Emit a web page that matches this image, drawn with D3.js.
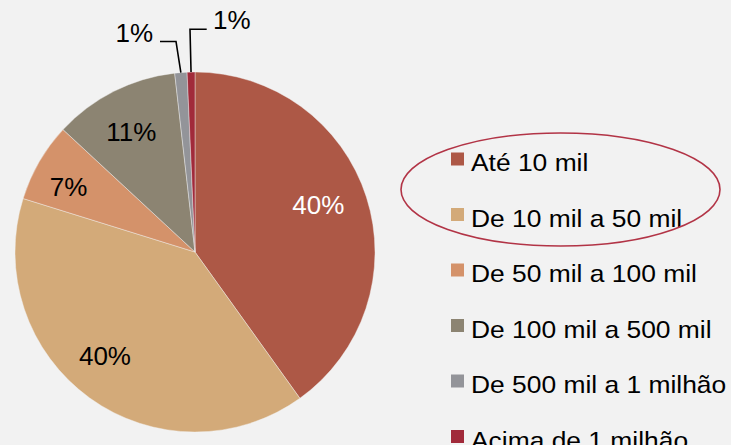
<!DOCTYPE html>
<html><head><meta charset="utf-8">
<script src="https://cdn.jsdelivr.net/npm/d3@7"></script>
<style>
html,body{margin:0;padding:0;background:#F2F2F2;}
svg{display:block;font-family:"Liberation Sans",Arial,sans-serif;}
</style></head>
<body><svg id="c" width="731" height="445"></svg>
<script>
const categories = ["Até 10 mil","De 10 mil a 50 mil","De 50 mil a 100 mil","De 100 mil a 500 mil","De 500 mil a 1 milhão","Acima de 1 milhão"];
const values = [40.1, 39.7, 7.1, 11.3, 1.1, 0.7];
const labels = ["40%","40%","7%","11%","1%","1%"];
const colors = ["#AD5846","#D3AA79","#D4926A","#8C8472","#939499","#A12A3A"];

const svg = d3.select("#c");
const cx = 195, cy = 252, R = 180;

const pie = d3.pie().sort(null).value(d => d);
const arcs = pie(values);
const arc = d3.arc().innerRadius(0).outerRadius(R);
const labelArc = d3.arc().innerRadius(R*0.76).outerRadius(R*0.76);
// small layout nudges for the inside labels (px)
const labelNudge = [[-7,-6],[-10,-7],[-8,3],[-2,2]];

const g = svg.append("g").attr("transform", `translate(${cx},${cy})`);
g.selectAll("path.slice").data(arcs).enter().append("path")
  .attr("class","slice")
  .attr("d", arc)
  .attr("fill", (d,i) => colors[i])
  .attr("stroke", "#F2F2F2").attr("stroke-width", 0.6).attr("stroke-opacity", 0.7);

g.selectAll("text.inl").data(arcs.filter((d,i)=>i<4)).enter().append("text")
  .attr("class","inl")
  .attr("transform", (d,i) => { const c = labelArc.centroid(d); return `translate(${c[0]+labelNudge[i][0]},${c[1]+labelNudge[i][1]+9.5})`; })
  .attr("text-anchor","middle")
  .attr("font-size", 26)
  .attr("fill", (d,i) => i===0 ? "#FFFFFF" : "#000000")
  .text((d,i) => labels[i]);

const leader = [
  {i:4, elbow:[-19,-210.5], end:[-35,-210.5], anchor:"end", tx:-42, ty:-210},
  {i:5, elbow:[-5,-222.7], end:[11.7,-222.7], anchor:"start", tx:18, ty:-223}
];
leader.forEach(L => {
  const d = arcs[L.i];
  const a = (d.startAngle + d.endAngle)/2;
  const p = [R*Math.sin(a), -R*Math.cos(a)];
  g.append("path")
    .attr("d", d3.line()([p, L.elbow, L.end]))
    .attr("fill","none").attr("stroke","#000").attr("stroke-width",1.6);
  g.append("text")
    .attr("x", L.tx).attr("y", L.ty)
    .attr("text-anchor", L.anchor)
    .attr("font-size", 26).attr("fill","#000")
    .text(labels[L.i]);
});

const leg = svg.append("g");
const ly = d3.scalePoint().domain(categories).range([159, 436.5]);
categories.forEach((c,i) => {
  leg.append("rect")
    .attr("x", 451).attr("y", ly(c) - 6.5).attr("width", 13).attr("height", 13)
    .attr("fill", colors[i]);
  leg.append("text")
    .attr("transform", `translate(471,${ly(c)+12}) scale(1.1,1)`)
    .attr("font-size", 24).attr("fill","#000")
    .text(c);
});

svg.append("ellipse")
  .attr("cx", 560.5).attr("cy", 189.5).attr("rx", 159.5).attr("ry", 56.5)
  .attr("fill","none").attr("stroke","#B23446").attr("stroke-width",1.6);
</script></body></html>
